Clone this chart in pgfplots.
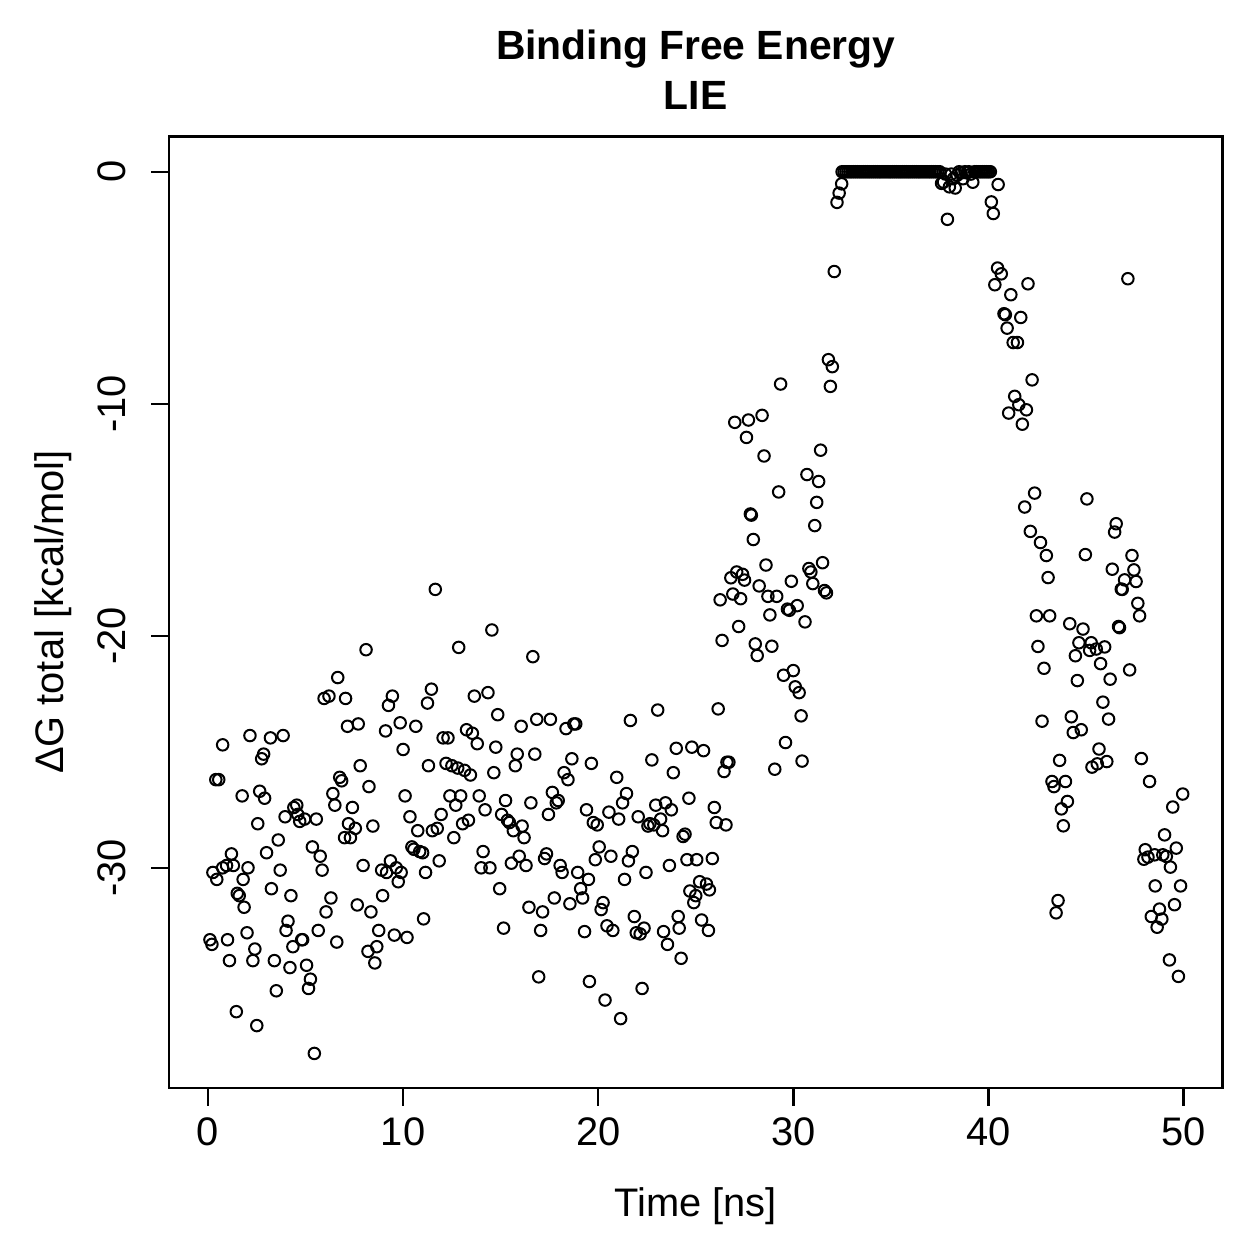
\documentclass[border=0pt]{standalone}
\usepackage{pgfplots}
\pgfplotsset{compat=1.18}
\usepackage{pgfplotstable}
\usepackage{fontspec}
\setmainfont{Liberation Sans}

% LIE binding free energy along the trajectory (time in ns, dG in kcal/mol)
\pgfplotstableread{
t dg
0.1 -33.1
0.2 -33.3
0.25 -30.2
0.4 -26.2
0.55 -26.2
0.45 -30.5
0.75 -24.7
0.75 -30.0
0.95 -29.9
1.0 -33.1
1.1 -34.0
1.2 -29.4
1.3 -29.9
1.45 -36.2
1.5 -31.1
1.6 -31.2
1.75 -26.9
1.8 -30.5
1.85 -31.7
2.0 -32.8
2.05 -30.0
2.15 -24.3
2.3 -34.0
2.4 -33.5
2.5 -36.8
2.55 -28.1
2.65 -26.7
2.75 -25.3
2.85 -25.1
2.9 -27.0
3.0 -29.35
3.2 -24.4
3.25 -30.9
3.4 -34.0
3.5 -35.3
3.6 -28.8
3.7 -30.1
3.85 -24.3
3.95 -27.8
4.0 -32.7
4.1 -32.3
4.2 -34.3
4.25 -31.2
4.35 -33.4
4.4 -27.4
4.55 -27.3
4.6 -27.7
4.7 -28.0
4.8 -33.1
4.85 -33.1
4.95 -27.9
5.05 -34.2
5.15 -35.2
5.25 -34.8
5.35 -29.1
5.45 -38.0
5.55 -27.9
5.65 -32.7
5.75 -29.5
5.85 -30.1
5.95 -22.7
6.05 -31.9
6.2 -22.6
6.3 -31.3
6.4 -26.8
6.5 -27.3
6.6 -33.2
6.65 -21.8
6.75 -26.1
6.85 -26.25
7.0 -28.7
7.05 -22.7
7.15 -23.9
7.2 -28.1
7.3 -28.7
7.4 -27.4
7.55 -28.3
7.65 -31.6
7.7 -23.8
7.8 -25.6
7.95 -29.9
8.1 -20.6
8.2 -33.6
8.25 -26.5
8.35 -31.9
8.45 -28.2
8.55 -34.1
8.65 -33.4
8.75 -32.7
8.9 -30.1
8.95 -31.2
9.1 -24.1
9.15 -30.2
9.25 -23.0
9.35 -29.7
9.45 -22.6
9.55 -32.9
9.65 -30.0
9.75 -30.6
9.85 -23.75
9.9 -30.2
10.0 -24.9
10.1 -26.9
10.2 -33.0
10.35 -27.8
10.45 -29.1
10.55 -29.2
10.65 -23.9
10.75 -28.4
10.85 -29.3
11.0 -29.35
11.05 -32.2
11.15 -30.2
11.25 -22.9
11.3 -25.6
11.45 -22.3
11.5 -28.4
11.65 -18.0
11.75 -28.3
11.85 -29.7
11.95 -27.7
12.05 -24.4
12.2 -25.5
12.3 -24.4
12.4 -26.9
12.5 -25.6
12.6 -28.7
12.7 -27.3
12.8 -25.7
12.85 -20.5
12.95 -26.9
13.05 -28.1
13.15 -25.8
13.25 -24.05
13.35 -27.95
13.45 -26.0
13.55 -24.2
13.65 -22.6
13.8 -24.65
13.9 -26.9
14.0 -30.0
14.1 -29.3
14.2 -27.5
14.35 -22.45
14.45 -30.0
14.55 -19.75
14.65 -25.9
14.75 -24.8
14.85 -23.4
14.95 -30.9
15.05 -27.7
15.15 -32.6
15.25 -27.1
15.35 -27.95
15.45 -28.05
15.55 -29.8
15.65 -28.4
15.75 -25.6
15.85 -25.1
15.95 -29.5
16.05 -23.9
16.1 -28.2
16.2 -28.7
16.3 -29.9
16.45 -31.7
16.55 -27.2
16.65 -20.9
16.75 -25.1
16.85 -23.6
16.95 -34.7
17.05 -32.7
17.15 -31.9
17.25 -29.6
17.35 -29.4
17.45 -27.7
17.55 -23.6
17.65 -26.75
17.75 -31.3
17.85 -27.2
17.95 -27.1
18.05 -29.9
18.15 -30.2
18.25 -25.9
18.35 -24.0
18.45 -26.2
18.55 -31.55
18.65 -25.3
18.75 -23.8
18.85 -23.8
18.95 -30.2
19.1 -30.9
19.2 -31.3
19.3 -32.75
19.4 -27.5
19.5 -30.5
19.55 -34.9
19.65 -25.5
19.75 -28.05
19.85 -29.65
19.95 -28.15
20.05 -29.1
20.15 -31.8
20.25 -31.5
20.35 -35.7
20.45 -32.5
20.55 -27.6
20.65 -29.5
20.75 -32.7
20.95 -26.1
21.05 -27.9
21.15 -36.5
21.25 -27.2
21.35 -30.5
21.45 -26.8
21.55 -29.7
21.65 -23.65
21.75 -29.3
21.85 -32.1
21.95 -32.8
22.05 -27.8
22.15 -32.85
22.25 -35.2
22.35 -32.6
22.45 -30.2
22.55 -28.2
22.65 -28.1
22.75 -25.35
22.85 -28.15
22.95 -27.3
23.05 -23.2
23.2 -27.9
23.3 -28.4
23.35 -32.75
23.45 -27.2
23.55 -33.3
23.65 -29.9
23.75 -27.5
23.85 -25.9
24.0 -24.85
24.1 -32.1
24.15 -32.6
24.25 -33.9
24.35 -28.65
24.45 -28.55
24.55 -29.65
24.65 -27.0
24.7 -31.0
24.8 -24.8
24.9 -31.5
25.0 -31.2
25.05 -29.65
25.2 -30.6
25.3 -32.25
25.4 -24.95
25.55 -30.7
25.65 -32.7
25.7 -30.95
25.85 -29.6
25.95 -27.4
26.05 -28.05
26.15 -23.15
26.25 -18.45
26.35 -20.2
26.45 -25.85
26.55 -28.15
26.6 -25.45
26.7 -25.45
26.8 -17.5
26.9 -18.2
27.0 -10.8
27.1 -17.25
27.2 -19.6
27.3 -18.4
27.4 -17.35
27.5 -17.6
27.6 -11.45
27.7 -10.7
27.8 -14.75
27.85 -14.8
27.95 -15.85
28.05 -20.35
28.15 -20.85
28.25 -17.85
28.4 -10.5
28.5 -12.25
28.6 -16.95
28.7 -18.3
28.8 -19.1
28.9 -20.45
29.05 -25.75
29.15 -18.3
29.25 -13.8
29.35 -9.15
29.5 -21.7
29.6 -24.6
29.7 -18.85
29.8 -18.9
29.9 -17.65
30.0 -21.5
30.1 -22.2
30.2 -18.7
30.3 -22.45
30.4 -23.45
30.45 -25.4
30.6 -19.4
30.7 -13.05
30.8 -17.1
30.9 -17.25
31.0 -17.75
31.1 -15.25
31.2 -14.25
31.3 -13.35
31.4 -12.0
31.5 -16.85
31.6 -18.05
31.7 -18.15
31.8 -8.1
31.9 -9.25
32.0 -8.4
32.1 -4.3
32.24 -1.32
32.35 -0.92
32.48 -0.52
32.5 0
32.6 0
32.7 0
32.8 0
32.9 0
33.0 0
33.1 0
33.2 0
33.3 0
33.4 0
33.5 0
33.6 0
33.7 0
33.8 0
33.9 0
34.0 0
34.1 0
34.2 0
34.3 0
34.4 0
34.5 0
34.6 0
34.7 0
34.8 0
34.9 0
35.0 0
35.1 0
35.2 0
35.3 0
35.4 0
35.5 0
35.6 0
35.7 0
35.8 0
35.9 0
36.0 0
36.1 0
36.2 0
36.3 0
36.4 0
36.5 0
36.6 0
36.7 0
36.8 0
36.9 0
37.0 0
37.1 0
37.2 0
37.3 0
37.4 0
37.5 0
37.6 -0.5
37.7 -0.45
37.8 -0.1
37.9 -2.05
38.0 -0.65
38.1 -0.1
38.2 -0.3
38.3 -0.7
38.4 -0.15
38.5 0
38.6 -0.05
38.7 -0.3
38.8 0
38.9 -0.05
39.0 0
39.1 -0.1
39.2 -0.45
39.3 0
39.4 0
39.5 0
39.6 0
39.7 0
39.8 0
39.9 0
40.0 0
40.1 0
40.15 -1.3
40.25 -1.8
40.5 -0.55
40.33 -4.87
40.47 -4.15
40.66 -4.4
40.8 -6.12
40.87 -6.16
40.96 -6.74
41.04 -10.4
41.15 -5.3
41.27 -7.36
41.35 -9.68
41.49 -7.36
41.56 -10.04
41.66 -6.28
41.74 -10.88
41.86 -14.45
41.95 -10.26
42.03 -4.83
42.15 -15.5
42.24 -8.97
42.37 -13.85
42.46 -19.14
42.54 -20.46
42.67 -15.98
42.75 -23.68
42.85 -21.4
42.97 -16.54
43.06 -17.49
43.14 -19.14
43.26 -26.28
43.36 -26.5
43.47 -31.94
43.57 -31.41
43.65 -25.37
43.74 -27.46
43.84 -28.19
43.95 -26.28
44.05 -27.14
44.17 -19.48
44.25 -23.49
44.35 -24.17
44.46 -20.86
44.56 -21.93
44.64 -20.3
44.76 -24.05
44.85 -19.71
44.97 -16.5
45.05 -14.1
45.19 -20.63
45.27 -20.3
45.31 -25.66
45.53 -20.57
45.58 -25.52
45.67 -24.88
45.75 -21.2
45.87 -22.86
45.96 -20.48
46.07 -25.42
46.16 -23.59
46.24 -21.87
46.35 -17.13
46.47 -15.53
46.55 -15.17
46.67 -19.6
46.72 -19.65
46.81 -17.99
46.86 -18.0
46.98 -17.59
47.15 -4.61
47.24 -21.47
47.36 -16.54
47.46 -17.16
47.57 -17.66
47.66 -18.6
47.75 -19.14
47.84 -25.29
47.97 -29.63
48.04 -29.22
48.18 -29.54
48.26 -26.28
48.35 -32.1
48.52 -29.44
48.55 -30.78
48.65 -32.56
48.77 -31.78
48.89 -32.21
48.94 -29.44
49.03 -28.58
49.12 -29.51
49.28 -33.97
49.33 -29.97
49.45 -27.38
49.54 -31.59
49.63 -29.15
49.74 -34.68
49.85 -30.78
49.96 -26.82
}\lietable

\begin{document}
\begin{tikzpicture}
\useasboundingbox (-67.6bp,-68.4bp) rectangle (436bp,435.2bp);
\begin{axis}[
  at={(0,0)}, anchor=south west,
  scale only axis, width=421.4bp, height=380.6bp,
  xmin=-2, xmax=52, ymin=-39.49, ymax=1.52,
  xtick={0,10,20,30,40,50}, xticklabels={0,10,20,30,40,50},
  ytick={-30,-20,-10,0}, yticklabels={-30,-20,-10,0},
  xtick pos=bottom, ytick pos=left,
  tick align=outside, major tick length=7bp,
  tick style={line width=1bp, black},
  axis line style={line width=1bp},
  ticklabel style={font=\fontsize{16}{19}\selectfont, inner sep=0pt},
  xticklabel style={anchor=north},
  xticklabel shift=4.8bp,
  yticklabel style={rotate=90, anchor=south},
  yticklabel shift=10bp,
  xlabel={Time [ns]},
  ylabel={ΔG total [kcal/mol]},
  every axis x label/.style={at={(axis description cs:0.5,0)}, anchor=base,
    yshift=-51.2bp, font=\fontsize{16}{19}\selectfont, inner sep=0pt},
  every axis y label/.style={at={(axis description cs:-0.1004,0.5)}, rotate=90,
    anchor=base, font=\fontsize{16}{19}\selectfont, inner sep=0pt},
  clip=false,
]
\addplot[only marks, mark=o, mark size=2.3bp, mark options={line width=0.8bp, black}] table[x=t, y=dg] {\lietable};
\node[anchor=base, font=\bfseries\fontsize{16.4}{19}\selectfont, inner sep=0pt]
  at (axis description cs:0.5,1) [yshift=30.6bp] {Binding Free Energy};
\node[anchor=base, font=\bfseries\fontsize{16.4}{19}\selectfont, inner sep=0pt]
  at (axis description cs:0.5,1) [yshift=10.6bp] {LIE};
\end{axis}
\end{tikzpicture}
\end{document}
